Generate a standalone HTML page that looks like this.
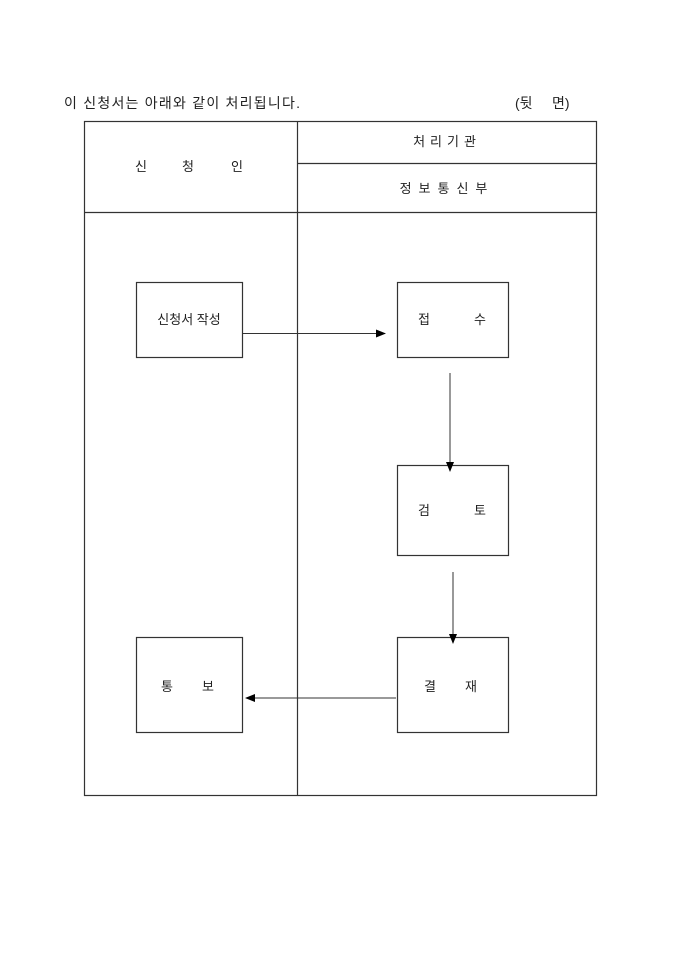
<!DOCTYPE html>
<html><head><meta charset="utf-8"><style>
html,body{margin:0;padding:0;background:#fff;width:680px;height:962px;overflow:hidden}
svg text{font-family:"Liberation Sans","Noto Sans CJK KR",sans-serif;font-size:13px;fill:#222}
</style></head><body>
<svg width="680" height="962" xmlns="http://www.w3.org/2000/svg">
<defs><marker id="a" markerWidth="10" markerHeight="8" refX="9" refY="4" orient="auto" markerUnits="userSpaceOnUse"><path d="M0,0 L10,4 L0,8 z" fill="#000"/></marker></defs>
<text x="64" y="108" style="font-size:14px" textLength="236" lengthAdjust="spacing">이 신청서는 아래와 같이 처리됩니다.</text>
<text x="515" y="108" style="font-size:14px">(뒷</text><text x="552" y="108" style="font-size:14px">면)</text>
<g stroke="#333" stroke-width="1.2" fill="none">
<rect x="84.5" y="121.5" width="512" height="674"/>
<line x1="297.5" y1="121" x2="297.5" y2="795"/>
<line x1="297" y1="163.5" x2="596" y2="163.5"/>
<line x1="84" y1="212.5" x2="596" y2="212.5"/>
<rect x="136.5" y="282.5" width="106" height="75"/>
<rect x="397.5" y="282.5" width="111" height="75"/>
<rect x="397.5" y="465.5" width="111" height="90"/>
<rect x="397.5" y="637.5" width="111" height="95"/>
<rect x="136.5" y="637.5" width="106" height="95"/>
</g>
<g stroke="#333" stroke-width="1">
<line x1="242" y1="333.5" x2="385" y2="333.5" marker-end="url(#a)"/>
<line x1="450" y1="373" x2="450" y2="471" marker-end="url(#a)"/>
<line x1="453" y1="572" x2="453" y2="643" marker-end="url(#a)"/>
<line x1="396" y1="698" x2="246" y2="698" marker-end="url(#a)"/>
</g>
<text x="135" y="171">신</text><text x="182" y="171">청</text><text x="231" y="171">인</text>
<text x="447" y="146" text-anchor="middle" letter-spacing="5">처리기관</text>
<text x="447" y="193" text-anchor="middle" letter-spacing="7">정보통신부</text>
<text x="189" y="324" text-anchor="middle">신청서 작성</text>
<text x="418" y="324">접</text><text x="474" y="324">수</text>
<text x="418" y="515">검</text><text x="474" y="515">토</text>
<text x="424" y="691">결</text><text x="465" y="691">재</text>
<text x="161" y="691">통</text><text x="202" y="691">보</text>
</svg>
</body></html>
